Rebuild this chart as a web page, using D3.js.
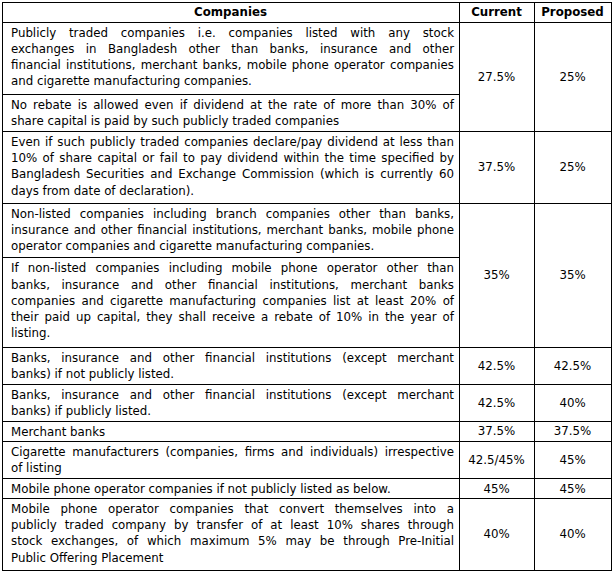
<!DOCTYPE html>
<html>
<head>
<meta charset="utf-8">
<script src="https://cdn.jsdelivr.net/npm/d3@7"></script>
<style>
  html, body { margin: 0; padding: 0; background: #fff; }
  svg { display: block; }
  text { font-family: Verdana, "DejaVu Sans", sans-serif; fill: #000; }
</style>
</head>
<body>
<script>
const width = 614;
const height = 572;

const headers = ["Companies", "Current", "Proposed"];

// each entry is one table row; a row may hold several sub-cells of text (lines as printed)
const companies = [
  [
    ["Publicly traded companies i.e. companies listed with any stock",
     "exchanges in Bangladesh other than banks, insurance and other",
     "financial institutions, merchant banks, mobile phone operator companies",
     "and cigarette manufacturing companies."],
    ["No rebate is allowed even if dividend at the rate of more than 30% of",
     "share capital is paid by such publicly traded companies"]
  ],
  [
    ["Even if such publicly traded companies declare/pay dividend at less than",
     "10% of share capital or fail to pay dividend within the time specified by",
     "Bangladesh Securities and Exchange Commission (which is currently 60",
     "days from date of declaration)."]
  ],
  [
    ["Non-listed companies including branch companies other than banks,",
     "insurance and other financial institutions, merchant banks, mobile phone",
     "operator companies and cigarette manufacturing companies."],
    ["If non-listed companies including mobile phone operator other than",
     "banks, insurance and other financial institutions, merchant banks",
     "companies and cigarette manufacturing companies list at least 20% of",
     "their paid up capital, they shall receive a rebate of 10% in the year of",
     "listing."]
  ],
  [
    ["Banks, insurance and other financial institutions (except merchant",
     "banks) if not publicly listed."]
  ],
  [
    ["Banks, insurance and other financial institutions (except merchant",
     "banks) if publicly listed."]
  ],
  [
    ["Merchant banks"]
  ],
  [
    ["Cigarette manufacturers (companies, firms and individuals) irrespective",
     "of listing"]
  ],
  [
    ["Mobile phone operator companies if not publicly listed as below."]
  ],
  [
    ["Mobile phone operator companies that convert themselves into a",
     "publicly traded company by transfer of at least 10% shares through",
     "stock exchanges, of which maximum 5% may be through Pre-Initial",
     "Public Offering Placement"]
  ]
];

const currentRates = ["27.5%", "37.5%", "35%", "42.5%", "42.5%", "37.5%", "42.5/45%", "45%", "40%"];
const proposedRates = ["25%", "25%", "35%", "42.5%", "40%", "37.5%", "45%", "45%", "40%"];

// layout
const colX = [2, 459, 534, 611];
const tableTop = 2;
const fontSize = 11.8;
const lineStep = 16.2;   // baseline to baseline inside a cell
const perLine = 17.35;   // row height per text line
const rowPad = 2.5;
const padLeft = 9, padRight = 5;

const px = v => Math.round(v) + 0.5;

const svg = d3.select("body").append("svg")
  .attr("width", width)
  .attr("height", height)
  .attr("viewBox", [0, 0, width, height]);

svg.append("rect").attr("width", width).attr("height", height).attr("fill", "#fff");

// work out row boxes from line counts
const headerH = perLine + rowPad;
let y = tableTop + headerH;
const rows = companies.map((parts, i) => {
  const y0 = y;
  const cells = parts.map(lines => {
    const h = lines.length * perLine + rowPad;
    const c = { lines, y0: y, y1: y + h };
    y += h;
    return c;
  });
  return { y0, y1: y, cells, current: currentRates[i], proposed: proposedRates[i] };
});
const tableBottom = y;

const grid = svg.append("g")
  .attr("stroke", "#000")
  .attr("stroke-width", 1)
  .attr("shape-rendering", "crispEdges");

// outer frame and column dividers
grid.append("rect")
  .attr("x", px(colX[0])).attr("y", px(tableTop))
  .attr("width", Math.round(colX[3] - colX[0]))
  .attr("height", Math.round(tableBottom - tableTop))
  .attr("fill", "none");

grid.selectAll("line.col")
  .data(colX.slice(1, 3))
  .join("line")
  .attr("class", "col")
  .attr("x1", d => px(d)).attr("x2", d => px(d))
  .attr("y1", px(tableTop)).attr("y2", px(tableBottom));

// row separators
grid.selectAll("line.row")
  .data([tableTop + headerH].concat(rows.slice(0, -1).map(r => r.y1)))
  .join("line")
  .attr("class", "row")
  .attr("x1", px(colX[0])).attr("x2", px(colX[3]))
  .attr("y1", d => px(d)).attr("y2", d => px(d));

// separators between sub-cells of the first column
grid.selectAll("line.sub")
  .data(rows.flatMap(r => r.cells.slice(1).map(c => c.y0)))
  .join("line")
  .attr("class", "sub")
  .attr("x1", px(colX[0])).attr("x2", px(colX[1]))
  .attr("y1", d => px(d)).attr("y2", d => px(d));

// header
svg.selectAll("text.head")
  .data(headers)
  .join("text")
  .attr("class", "head")
  .attr("x", (d, i) => (colX[i] + colX[i + 1]) / 2)
  .attr("y", tableTop + headerH / 2 + 4)
  .attr("text-anchor", "middle")
  .style("font-size", fontSize + "px")
  .style("font-weight", "bold")
  .text(d => d);

// company descriptions, justified like the source
const avail = colX[1] - padRight - (colX[0] + padLeft);
const textG = svg.append("g").style("font-size", fontSize + "px");

rows.forEach(r => {
  r.cells.forEach(c => {
    c.lines.forEach((ln, k) => {
      const t = textG.append("text")
        .attr("x", colX[0] + padLeft)
        .attr("y", c.y0 + 15 + k * lineStep)
        .text(ln);
      const last = k === c.lines.length - 1;
      const natural = t.node().getComputedTextLength();
      const gaps = (ln.match(/ /g) || []).length;
      if ((!last || natural > avail) && gaps > 0) {
        t.style("word-spacing", ((avail - natural) / gaps) + "px");
      }
    });
  });
});

// rate columns, centred in the merged row
const rateG = svg.append("g").style("font-size", fontSize + "px");
[["current", 1], ["proposed", 2]].forEach(([key, ci]) => {
  rateG.selectAll("text." + key)
    .data(rows)
    .join("text")
    .attr("class", key)
    .attr("x", (colX[ci] + colX[ci + 1]) / 2)
    .attr("y", d => (d.y0 + d.y1) / 2 + 4.5)
    .attr("text-anchor", "middle")
    .text(d => d[key]);
});
</script>
</body>
</html>
